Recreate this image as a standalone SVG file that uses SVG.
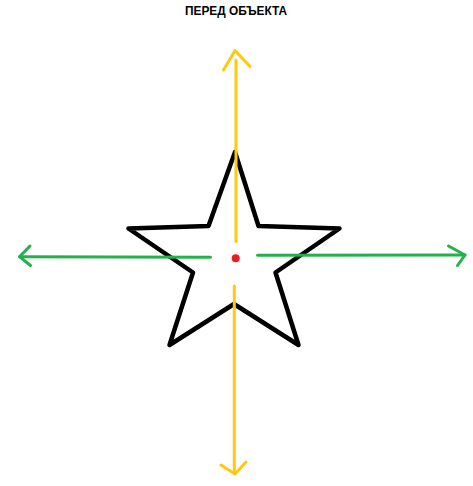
<svg xmlns="http://www.w3.org/2000/svg" width="473" height="486" viewBox="0 0 473 486">
<style>
.y{stroke:#FFC90E;stroke-width:3;fill:none;stroke-linecap:round;stroke-linejoin:round}
.g{stroke:#22B14C;stroke-width:3;fill:none;stroke-linecap:round;stroke-linejoin:round}
.star{stroke:#000;stroke-width:4.5;fill:none;stroke-linejoin:round}
.t{font-family:"Liberation Sans",Arial,sans-serif;font-weight:bold;font-size:12px;fill:#000}
</style>
<rect width="473" height="486" fill="#fff"/>
<text class="t" x="185" y="15" textLength="102" lengthAdjust="spacingAndGlyphs">ПЕРЕД ОБЪЕКТА</text>
<g id="star">
<polygon class="star" points="235,152 208.5,226 128.5,228.5 193,272.5 169.5,345 234,304 298.5,345 275.5,272.5 339.5,228.5 258.5,226"/>
</g>
<g id="connectors">
<path class="y" d="M236,60 L236,241.5"/>
<path class="y" d="M223.5,70 L235,50.5 L250,66.5"/>
<path class="y" d="M234.3,286 L234.3,473"/>
<path class="y" d="M221,465 L235,474 L246,462"/>
<path class="g" d="M20,256.8 L210.5,257.3"/>
<path class="g" d="M30,246 L19.5,256.7 L30.5,265.5"/>
<path class="g" d="M257.5,255.3 L465,255"/>
<path class="g" d="M448.5,246 L465,255 L457.5,265.5"/>
</g>
<g id="center">
<circle cx="235.7" cy="258.3" r="4" fill="#ED1C24"/>
</g>
</svg>
